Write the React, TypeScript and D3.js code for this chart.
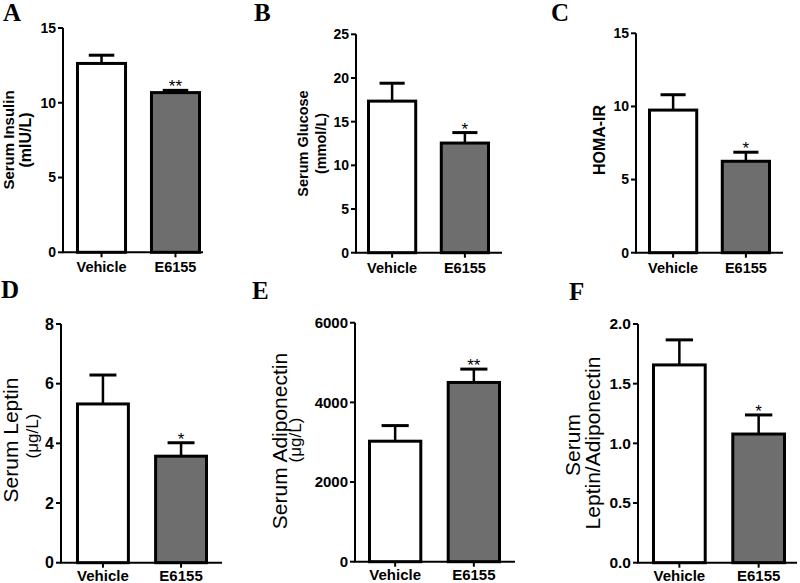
import React from "react";
import * as d3 from "d3";

// ---------- data ----------
const categories = ["Vehicle", "E6155"];

const insulinMean = [12.63, 10.68];
const insulinSem = [0.55, 0.15];
const insulinTicks = [0, 5, 10, 15];
const insulinStars = ["", "**"];

const glucoseMean = [17.35, 12.55];
const glucoseSem = [2.05, 1.2];
const glucoseTicks = [0, 5, 10, 15, 20, 25];
const glucoseStars = ["", "*"];

const homaMean = [9.75, 6.25];
const homaSem = [1.05, 0.62];
const homaTicks = [0, 5, 10, 15];
const homaStars = ["", "*"];

const leptinMean = [5.32, 3.57];
const leptinSem = [0.97, 0.45];
const leptinTicks = [0, 2, 4, 6, 8];
const leptinStars = ["", "*"];

const adipoMean = [3025, 4500];
const adipoSem = [392, 335];
const adipoTicks = [0, 2000, 4000, 6000];
const adipoStars = ["", "**"];

const ratioMean = [1.657, 1.078];
const ratioSem = [0.21, 0.16];
const ratioTicks = [0, 0.5, 1.0, 1.5, 2.0];
const ratioStars = ["", "*"];

const panelLetters = ["A", "B", "C", "D", "E", "F"];

const barFills = ["#ffffff", "#6e6e6e"];

type LabelLine = { text: string; x: number; size: number; bold: boolean; cy: number };

type Panel = {
  letter: string;
  letterX: number;
  letterY: number;
  mean: number[];
  sem: number[];
  ticks: number[];
  fmt: (v: number) => string;
  stars: string[];
  axisX: number;
  axisEnd: number;
  bandStart: number;
  bandEnd: number;
  top: number;
  bottom: number;
  tickSize: number;
  catSize: number;
  catGap: number;
  labels: LabelLine[];
};

const intFmt = d3.format("d");
const oneFmt = d3.format(".1f");

const panels: Panel[] = [
  {
    letter: panelLetters[0], letterX: 3, letterY: 21,
    mean: insulinMean, sem: insulinSem, ticks: insulinTicks, fmt: intFmt, stars: insulinStars,
    axisX: 63, axisEnd: 203, bandStart: 76, bandEnd: 201, top: 28, bottom: 252.3,
    tickSize: 14, catSize: 14.5, catGap: 20,
    labels: [
      { text: "Serum Insulin", x: 14, size: 15, bold: true, cy: 140 },
      { text: "(mIU/L)", x: 30.5, size: 16, bold: true, cy: 140 },
    ],
  },
  {
    letter: panelLetters[1], letterX: 254, letterY: 21,
    mean: glucoseMean, sem: glucoseSem, ticks: glucoseTicks, fmt: intFmt, stars: glucoseStars,
    axisX: 356, axisEnd: 502, bandStart: 367, bandEnd: 490, top: 34.3, bottom: 252.7,
    tickSize: 14, catSize: 14.5, catGap: 20,
    labels: [
      { text: "Serum Glucose", x: 308, size: 14.5, bold: true, cy: 143.5 },
      { text: "(mmol/L)", x: 325.5, size: 14.5, bold: true, cy: 143.5 },
    ],
  },
  {
    letter: panelLetters[2], letterX: 551, letterY: 21,
    mean: homaMean, sem: homaSem, ticks: homaTicks, fmt: intFmt, stars: homaStars,
    axisX: 636, axisEnd: 783, bandStart: 648, bandEnd: 771, top: 33.3, bottom: 252.7,
    tickSize: 14, catSize: 14.5, catGap: 20,
    labels: [{ text: "HOMA-IR", x: 605, size: 16, bold: true, cy: 140 }],
  },
  {
    letter: panelLetters[3], letterX: 1, letterY: 298,
    mean: leptinMean, sem: leptinSem, ticks: leptinTicks, fmt: intFmt, stars: leptinStars,
    axisX: 61, axisEnd: 222, bandStart: 76, bandEnd: 208, top: 324, bottom: 562.7,
    tickSize: 16, catSize: 15, catGap: 18,
    labels: [
      { text: "Serum Leptin", x: 18, size: 21, bold: false, cy: 440 },
      { text: "(\u03bcg/L)", x: 37.5, size: 17, bold: false, cy: 436 },
    ],
  },
  {
    letter: panelLetters[4], letterX: 252, letterY: 299,
    mean: adipoMean, sem: adipoSem, ticks: adipoTicks, fmt: intFmt, stars: adipoStars,
    axisX: 355, axisEnd: 515, bandStart: 368, bandEnd: 501, top: 322.7, bottom: 561.7,
    tickSize: 15, catSize: 15, catGap: 18,
    labels: [
      { text: "Serum Adiponectin", x: 287, size: 21, bold: false, cy: 441 },
      { text: "(\u03bcg/L)", x: 301, size: 17, bold: false, cy: 440 },
    ],
  },
  {
    letter: panelLetters[5], letterX: 569, letterY: 300,
    mean: ratioMean, sem: ratioSem, ticks: ratioTicks, fmt: oneFmt, stars: ratioStars,
    axisX: 638, axisEnd: 797, bandStart: 652, bandEnd: 786, top: 324, bottom: 562.7,
    tickSize: 15.5, catSize: 15, catGap: 18,
    labels: [
      { text: "Serum", x: 580, size: 21, bold: false, cy: 445 },
      { text: "Leptin/Adiponectin", x: 600, size: 21, bold: false, cy: 443 },
    ],
  },
];

const SANS = "'Liberation Sans', Arial, Helvetica, sans-serif";
const SERIF = "'Liberation Serif', 'Times New Roman', serif";

function PanelView({ p }: { p: Panel }) {
  const yMax = p.ticks[p.ticks.length - 1];
  const y = d3.scaleLinear().domain([0, yMax]).range([p.bottom, p.top]);
  const x = d3
    .scaleBand<string>()
    .domain(categories)
    .range([p.bandStart, p.bandEnd])
    .paddingInner(0.31)
    .paddingOuter(0);
  const bw = x.bandwidth();
  const tickLen = 5;
  return (
    <g>
      <text x={p.letterX} y={p.letterY} fontFamily={SERIF} fontWeight="bold" fontSize={25} fill="#000">
        {p.letter}
      </text>
      {p.labels.map((l, i) => (
        <text
          key={i}
          transform={`translate(${l.x},${l.cy}) rotate(-90)`}
          textAnchor="middle"
          fontFamily={SANS}
          fontWeight={l.bold ? "bold" : "normal"}
          fontSize={l.size}
          fill="#000"
        >
          {l.text}
        </text>
      ))}
      {/* bars */}
      {categories.map((c, i) => {
        const x0 = x(c)! + 1.5;
        const w = bw - 3;
        const yTop = y(p.mean[i]);
        const yErr = y(p.mean[i] + p.sem[i]);
        const cx = x(c)! + bw / 2;
        const capHalf = bw / 4;
        return (
          <g key={c}>
            <line x1={cx} x2={cx} y1={yTop} y2={yErr} stroke="#000" strokeWidth={2.5} />
            <line x1={cx - capHalf} x2={cx + capHalf} y1={yErr} y2={yErr} stroke="#000" strokeWidth={3} />
            <rect
              x={x0}
              y={yTop}
              width={w}
              height={p.bottom - yTop}
              fill={barFills[i]}
              stroke="#000"
              strokeWidth={3}
            />
            {p.stars[i] && (
              <text
                x={cx}
                y={yErr + 2}
                textAnchor="middle"
                fontFamily={SANS}
                fontSize={17}
                fill="#000"
              >
                {p.stars[i]}
              </text>
            )}
            <line x1={cx} x2={cx} y1={p.bottom} y2={p.bottom + tickLen} stroke="#000" strokeWidth={2} />
            <text
              x={cx}
              y={p.bottom + p.catGap}
              textAnchor="middle"
              fontFamily={SANS}
              fontWeight="bold"
              fontSize={p.catSize}
              fill="#000"
            >
              {c}
            </text>
          </g>
        );
      })}
      {/* axes */}
      <line x1={p.axisX} x2={p.axisX} y1={p.top} y2={p.bottom} stroke="#000" strokeWidth={2} />
      <line x1={p.axisX - 1} x2={p.axisEnd} y1={p.bottom} y2={p.bottom} stroke="#000" strokeWidth={2} />
      {p.ticks.map((t) => (
        <g key={t}>
          <line x1={p.axisX - tickLen} x2={p.axisX} y1={y(t)} y2={y(t)} stroke="#000" strokeWidth={2} />
          <text
            x={p.axisX - tickLen - 2}
            y={y(t)}
            dy="0.35em"
            textAnchor="end"
            fontFamily={SANS}
            fontWeight="bold"
            fontSize={p.tickSize}
            fill="#000"
          >
            {p.fmt(t)}
          </text>
        </g>
      ))}
    </g>
  );
}

export default function App() {
  return (
    <svg
      width={800}
      height={583}
      viewBox="0 0 800 583"
      style={{ position: "absolute", left: 0, top: 0, background: "#fff" }}
    >
      <rect x={0} y={0} width={800} height={583} fill="#fff" />
      {panels.map((p) => (
        <PanelView key={p.letter} p={p} />
      ))}
    </svg>
  );
}
